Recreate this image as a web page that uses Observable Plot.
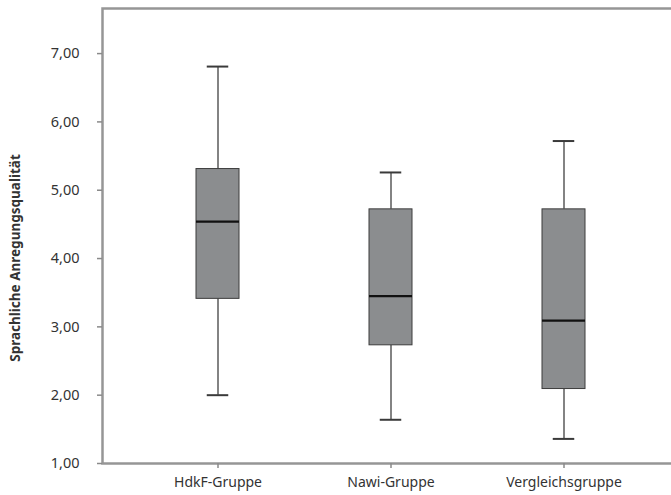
<!DOCTYPE html>
<html>
<head>
<meta charset="utf-8">
<script src="https://cdn.jsdelivr.net/npm/d3@7"></script>
<script src="https://cdn.jsdelivr.net/npm/@observablehq/plot@0.6"></script>
<style>
  html, body { margin: 0; padding: 0; background: #fff; }
  #chart svg { display: block; }
</style>
</head>
<body>
<div id="chart"></div>
<script>
const groups = ["HdkF-Gruppe", "Nawi-Gruppe", "Vergleichsgruppe"];
const minVals = [2.00, 1.64, 1.36];
const q1Vals = [3.41, 2.73, 2.09];
const medianVals = [4.54, 3.45, 3.09];
const q3Vals = [5.31, 4.72, 4.72];
const maxVals = [6.81, 5.26, 5.72];
const yTicks = [1, 2, 3, 4, 5, 6, 7];
const yLabel = "Sprachliche Anregungsqualität";

const data = groups.map((g, i) => ({
  group: g, min: minVals[i], q1: q1Vals[i], median: medianVals[i], q3: q3Vals[i], max: maxVals[i]
}));

const font = "'Noto Sans', sans-serif";
const fmt = d => d.toFixed(2).replace(".", ",");

const chart = Plot.plot({
  width: 671,
  height: 495,
  marginTop: 8,
  marginBottom: 32,
  marginLeft: 102,
  marginRight: -9,
  style: { fontFamily: font, fontSize: "14px", color: "#333", background: "#fff" },
  x: { domain: groups, paddingInner: 0.75, paddingOuter: 0.544, label: null },
  y: { domain: [1, 7.66], label: null },
  marks: [
    Plot.frame({ stroke: "#969696", strokeWidth: 2.5 }),
    Plot.ruleX(data, { x: "group", y1: "min", y2: "q1", stroke: "#5a5a5a", strokeWidth: 1.5 }),
    Plot.ruleX(data, { x: "group", y1: "q3", y2: "max", stroke: "#5a5a5a", strokeWidth: 1.5 }),
    Plot.tickY(data, { x: "group", y: "min", stroke: "#3a3a3a", strokeWidth: 2, insetLeft: 10.75, insetRight: 10.75 }),
    Plot.tickY(data, { x: "group", y: "max", stroke: "#3a3a3a", strokeWidth: 2, insetLeft: 10.75, insetRight: 10.75 }),
    Plot.barY(data, { x: "group", y1: "q1", y2: "q3", fill: "#8b8d8f", stroke: "#3c3c3c", strokeWidth: 1 }),
    Plot.tickY(data, { x: "group", y: "median", stroke: "#111", strokeWidth: 2.2 }),
    Plot.axisY({ ticks: yTicks, tickFormat: fmt, tickSize: 5, tickPadding: 18, stroke: "#8a8a8a", strokeWidth: 1.5, fill: "#333", fontSize: 14.5, label: null }),
    Plot.axisX({ tickSize: 5, tickPadding: 9, stroke: "#8a8a8a", strokeWidth: 1.5, fill: "#333", fontSize: 14, label: null }),
    Plot.text([yLabel], { frameAnchor: "left", textAnchor: "middle", dx: -87, dy: 22, rotate: -90, text: d => d, fontWeight: "bold", fontSize: 13.5, fill: "#333" })
  ]
});
document.getElementById("chart").appendChild(chart);
</script>
</body>
</html>
